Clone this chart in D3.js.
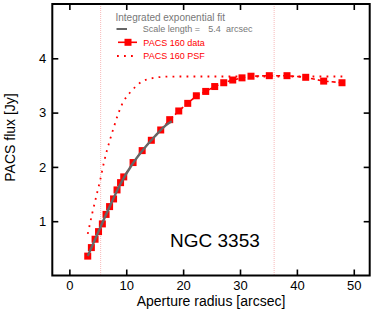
<!DOCTYPE html>
<html>
<head>
<meta charset="utf-8">
<script src="https://cdn.jsdelivr.net/npm/d3@7"></script>
<style>
  html, body { margin: 0; padding: 0; background: #fff; }
  svg { display: block; font-family: "Liberation Sans", Arial, Helvetica, sans-serif; }
</style>
</head>
<body>
<svg id="chart" width="374" height="313"></svg>
<script>
// ---- data ----
const radius = [3.23, 3.87, 4.52, 5.13, 5.80, 6.45, 7.07, 7.77, 8.38, 9.00, 9.56,
  11.2, 12.8, 14.41, 16.06, 17.64, 19.23, 20.81, 22.32, 23.97, 25.55, 27.14, 28.72,
  30.35, 31.93, 35.15, 38.26, 41.55, 44.71, 47.93];
const flux = [0.357, 0.514, 0.668, 0.808, 0.950, 1.125, 1.269, 1.41, 1.576, 1.71, 1.816,
  2.08, 2.30, 2.49, 2.68, 2.87, 3.03, 3.17, 3.31, 3.39, 3.48, 3.55, 3.60,
  3.64, 3.67, 3.68, 3.68, 3.65, 3.58, 3.55];

const psfRadius = [3.23, 3.99, 4.82, 5.40, 6.15, 7.10, 7.80, 8.56, 9.49, 10.19, 10.97,
  11.85, 12.83, 13.88, 15.11, 16.29, 17.47, 20, 25, 30, 35, 40, 45, 48];
const psfFlux = [0.766, 1.129, 1.497, 1.748, 2.116, 2.484, 2.724, 2.97, 3.20, 3.31, 3.405,
  3.497, 3.578, 3.615, 3.645, 3.657, 3.663, 3.665, 3.665, 3.665, 3.665, 3.665, 3.665, 3.665];

const fitRadius = [3.23, 5, 7, 9, 11, 13, 15, 17, 18];
const fitFlux = [0.36, 0.78, 1.25, 1.69, 2.04, 2.32, 2.56, 2.77, 2.84];

const markerRadii = [5.5, 36.0];

const xTicks = [0, 10, 20, 30, 40, 50];
const yTicks = [1, 2, 3, 4];

const xTitle = "Aperture radius [arcsec]";
const yTitle = "PACS flux [Jy]";
const objectName = "NGC 3353";
const legendTitle = "Integrated exponential fit";
const scaleLength = "5.4";

// ---- layout ----
const svg = d3.select("#chart");
const L = 52.3, R = 369.7, T = 4, B = 275.5;
const x = d3.scaleLinear().domain([-3, 52.8]).range([L, R]);
const y = d3.scaleLinear().domain([0, 5]).range([B, T]);

const red = "#ff0000";

// vertical dotted markers
svg.selectAll("line.marker").data(markerRadii).enter().append("line")
  .attr("class", "marker")
  .attr("x1", d => x(d)).attr("x2", d => x(d))
  .attr("y1", T).attr("y2", B)
  .attr("stroke", "#f7b8b8").attr("stroke-width", 1)
  .attr("stroke-dasharray", "1,1");

// PSF dotted curve
const psfPts = psfRadius.map((r, i) => [r, psfFlux[i]]);
svg.append("path")
  .attr("d", d3.line().x(d => x(d[0])).y(d => y(d[1])).curve(d3.curveMonotoneX)(psfPts))
  .attr("fill", "none").attr("stroke", red).attr("stroke-width", 1.8)
  .attr("stroke-dasharray", "1.8,5.2");

// data line
const dataPts = radius.map((r, i) => [r, flux[i]]);
svg.append("path")
  .attr("d", d3.line().x(d => x(d[0])).y(d => y(d[1]))(dataPts))
  .attr("fill", "none").attr("stroke", red).attr("stroke-width", 1.6)
  .attr("stroke-dasharray", "4,3");

// squares
const sq = 7;
svg.selectAll("rect.pt").data(dataPts).enter().append("rect")
  .attr("class", "pt")
  .attr("x", d => x(d[0]) - sq / 2).attr("y", d => y(d[1]) - sq / 2)
  .attr("width", sq).attr("height", sq).attr("fill", red);

// fit line
const fitPts = fitRadius.map((r, i) => [r, fitFlux[i]]);
svg.append("path")
  .attr("d", d3.line().x(d => x(d[0])).y(d => y(d[1])).curve(d3.curveMonotoneX)(fitPts))
  .attr("fill", "none").attr("stroke", "#666").attr("stroke-width", 2.4);

// axes
const fs = "13px";
const gB = svg.append("g").attr("transform", `translate(0,${B})`)
  .call(d3.axisBottom(x).tickValues(xTicks).tickSize(-6).tickPadding(5).tickFormat(d3.format("d")));
const gT = svg.append("g").attr("transform", `translate(0,${T})`)
  .call(d3.axisTop(x).tickValues(xTicks).tickSize(-6).tickFormat(""));
const gL = svg.append("g").attr("transform", `translate(${L},0)`)
  .call(d3.axisLeft(y).tickValues(yTicks).tickSize(-6).tickPadding(6).tickFormat(d3.format("d")));
const gR = svg.append("g").attr("transform", `translate(${R},0)`)
  .call(d3.axisRight(y).tickValues(yTicks).tickSize(-6).tickFormat(""));
[gB, gT, gL, gR].forEach(g => {
  g.select(".domain").remove();
  g.selectAll(".tick line").attr("stroke", "#000").attr("stroke-width", 1.6);
  g.selectAll(".tick text").attr("fill", "#000").style("font-size", fs)
    .style("font-family", '"Liberation Sans", Arial, sans-serif');
});

// frame
svg.append("rect").attr("x", L).attr("y", T).attr("width", R - L).attr("height", B - T)
  .attr("fill", "none").attr("stroke", "#000").attr("stroke-width", 2);

// titles
svg.append("text").attr("x", 211).attr("y", 306).attr("text-anchor", "middle")
  .style("font-size", "14px").attr("fill", "#000").text(xTitle);
svg.append("text").attr("transform", "translate(15,181.7) rotate(-90)")
  .attr("text-anchor", "start").style("font-size", "14px").attr("fill", "#000").text(yTitle);

svg.append("text").attr("x", 170).attr("y", 247.3)
  .style("font-size", "19px").attr("fill", "#000").text(objectName);

// legend
const gray = "#777";
svg.append("text").attr("x", 115.5).attr("y", 20.5).style("font-size", "10px")
  .attr("fill", gray).text(legendTitle);
svg.append("line").attr("x1", 116.5).attr("x2", 127).attr("y1", 29).attr("y2", 29)
  .attr("stroke", "#666").attr("stroke-width", 2);
svg.append("text").attr("x", 142.7).attr("y", 32.2).style("font-size", "9px")
  .attr("fill", gray).text("Scale length =");
svg.append("text").attr("x", 208.3).attr("y", 32.2).style("font-size", "9px")
  .attr("fill", gray).text(scaleLength);
svg.append("text").attr("x", 226).attr("y", 32.2).style("font-size", "9px")
  .attr("fill", gray).text("arcsec");

svg.append("line").attr("x1", 118).attr("x2", 137).attr("y1", 42.3).attr("y2", 42.3)
  .attr("stroke", red).attr("stroke-width", 1.6);
svg.append("rect").attr("x", 128 - 3.5).attr("y", 42.3 - 3.5).attr("width", 7).attr("height", 7)
  .attr("fill", red);
svg.append("text").attr("x", 143.3).attr("y", 45.5).style("font-size", "9px")
  .attr("fill", red).text("PACS 160 data");

svg.append("line").attr("x1", 117).attr("x2", 134).attr("y1", 56).attr("y2", 56)
  .attr("stroke", red).attr("stroke-width", 1.8).attr("stroke-dasharray", "1.8,5.2");
svg.append("text").attr("x", 143.3).attr("y", 59.2).style("font-size", "9px")
  .attr("fill", red).text("PACS 160 PSF");
</script>
</body>
</html>
